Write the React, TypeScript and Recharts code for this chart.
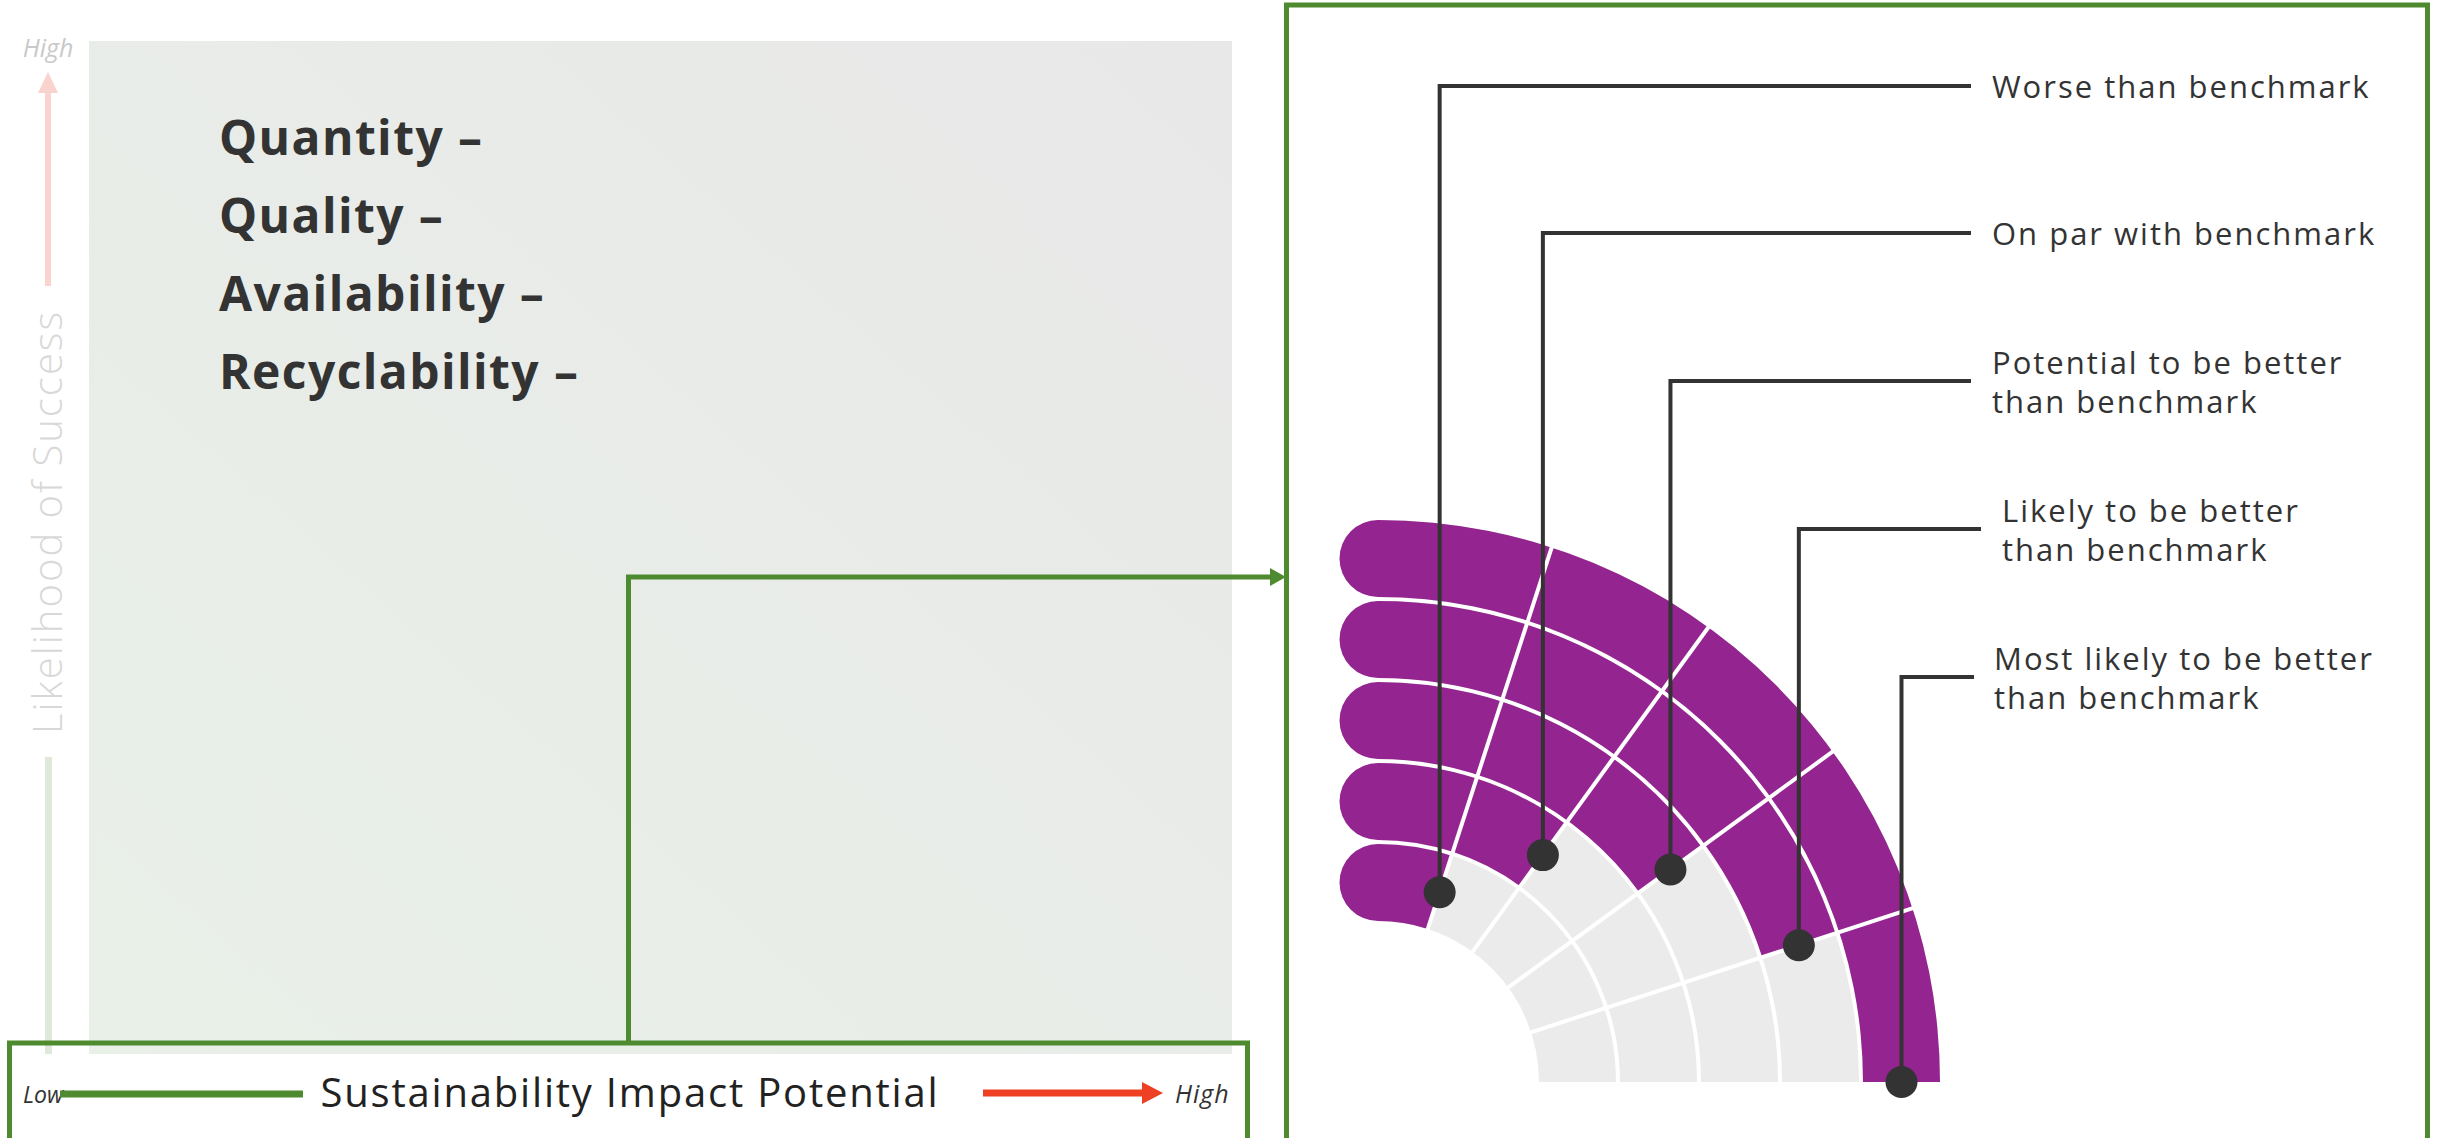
import React from "react";
import {
  RadialBarChart,
  RadialBar,
  PolarAngleAxis,
  PolarRadiusAxis,
  PolarGrid,
  LabelList,
} from "recharts";

// benchmark levels, innermost ring first
const levels = [
  "Worse than benchmark",
  "On par with benchmark",
  "Potential to be better than benchmark",
  "Likely to be better than benchmark",
  "Most likely to be better than benchmark",
];
const labelLines = [
  ["Worse than benchmark"],
  ["On par with benchmark"],
  ["Potential to be better", "than benchmark"],
  ["Likely to be better", "than benchmark"],
  ["Most likely to be better", "than benchmark"],
];
// filled segments per ring (out of 5)
const filledSegments = [1, 2, 3, 4, 5];
const segmentTicks = [1, 2, 3, 4];
const criteria = ["Quantity –", "Quality –", "Availability –", "Recyclability –"];

const data = levels.map((name, i) => ({ name, value: filledSegments[i] }));

// layout
const W = 2437;
const H = 1138;
const GREEN = "#4E8A2F";
const PURPLE = "#94248F";
const DARK = "#333333";
const FONT = "'Open Sans', 'DejaVu Sans', sans-serif";
const rowY = [86, 233, 381, 529, 677];
const lineEndX = [1971, 1971, 1971, 1981, 1974];
const textX = [1992, 1992, 1992, 2002, 1994];

const RAD = Math.PI / 180;
const polar = (cx: number, cy: number, r: number, a: number) => [
  cx + r * Math.cos(a * RAD),
  cy - r * Math.sin(a * RAD),
];

const CappedSector = (props: any) => {
  const { cx, cy, innerRadius, outerRadius, startAngle, endAngle, fill } = props;
  const base = Math.max(startAngle, endAngle);
  const tip = Math.min(startAngle, endAngle);
  const [x1, y1] = polar(cx, cy, outerRadius, base);
  const [x2, y2] = polar(cx, cy, outerRadius, tip);
  const [x3, y3] = polar(cx, cy, innerRadius, tip);
  const [x4, y4] = polar(cx, cy, innerRadius, base);
  const large = base - tip > 180 ? 1 : 0;
  const rc = (outerRadius - innerRadius) / 2;
  const d =
    `M${x1},${y1} A${outerRadius},${outerRadius} 0 ${large} 1 ${x2},${y2} ` +
    `L${x3},${y3} A${innerRadius},${innerRadius} 0 ${large} 0 ${x4},${y4} ` +
    `A${rc},${rc} 0 0 1 ${x1},${y1} Z`;
  return <path d={d} fill={fill} />;
};

const Leader = (props: any) => {
  const { viewBox, index } = props;
  if (!viewBox || index == null) return null;
  const { cx, cy, innerRadius, outerRadius, startAngle, endAngle } = viewBox;
  const tip = Math.min(startAngle, endAngle);
  const r = (innerRadius + outerRadius) / 2;
  const [x, y] = polar(cx, cy, r, tip);
  const ly = rowY[index];
  const lines = labelLines[index];
  const gap = 39;
  const y0 = ly - ((lines.length - 1) * gap) / 2;
  return (
    <g>
      <polyline
        points={`${x},${y} ${x},${ly} ${lineEndX[index]},${ly}`}
        fill="none"
        stroke={DARK}
        strokeWidth={4}
      />
      <circle cx={x} cy={y} r={16} fill={DARK} />
      {lines.map((t, j) => (
        <text
          key={j}
          x={textX[index]}
          y={y0 + j * gap}
          dominantBaseline="central"
          fontFamily={FONT}
          fontSize={31}
          letterSpacing={2}
          fill={DARK}
        >
          {t}
        </text>
      ))}
    </g>
  );
};

const Backdrop = () => (
  <svg width={W} height={H} style={{ position: "absolute", left: 0, top: 0 }}>
    <defs>
      <linearGradient id="panel" x1="0" y1="1" x2="1" y2="0">
        <stop offset="0%" stopColor="#E9F0E8" />
        <stop offset="100%" stopColor="#E8E8E8" />
      </linearGradient>
    </defs>
    <rect x={89} y={41} width={1143} height={1013} fill="url(#panel)" />
    {criteria.map((c, i) => (
      <text
        key={c}
        x={219}
        y={155 + i * 78}
        fontFamily={FONT}
        fontWeight={700}
        fontSize={48}
        letterSpacing={1.4}
        fill={DARK}
      >
        {c}
      </text>
    ))}

    {/* vertical axis */}
    <text x={48} y={57} textAnchor="middle" fontFamily={FONT} fontStyle="italic" fontSize={25} fill="#C9C9C9">
      High
    </text>
    <line x1={48} y1={90} x2={48} y2={286} stroke="#FAD3CE" strokeWidth={6} />
    <polygon points="38,93 58,93 48,72" fill="#FAD3CE" />
    <text
      x={62}
      y={522}
      transform="rotate(-90 62 522)"
      textAnchor="middle"
      fontFamily={FONT}
      fontWeight={300}
      fontSize={40}
      letterSpacing={2}
      fill="#D8D8D8"
    >
      Likelihood of Success
    </text>
    <line x1={48.5} y1={757} x2={48.5} y2={1054} stroke="#DFE9DA" strokeWidth={7} />

    {/* horizontal axis box */}
    <rect x={9.5} y={1043} width={1238} height={110} fill="none" stroke={GREEN} strokeWidth={5} />
    <text x={23} y={1103} fontFamily={FONT} fontStyle="italic" fontSize={23} fill={DARK}>
      Low
    </text>
    <line x1={60} y1={1094} x2={303} y2={1094} stroke={GREEN} strokeWidth={7} />
    <text
      x={630}
      y={1107}
      textAnchor="middle"
      fontFamily={FONT}
      fontSize={40}
      letterSpacing={1.8}
      fill="#222"
    >
      Sustainability Impact Potential
    </text>
    <line x1={983} y1={1093} x2={1146} y2={1093} stroke="#EE4023" strokeWidth={7} />
    <polygon points="1142,1082 1142,1104 1163,1093" fill="#EE4023" />
    <text x={1175} y={1103} fontFamily={FONT} fontStyle="italic" fontSize={25} letterSpacing={1} fill={DARK}>
      High
    </text>

    {/* connector */}
    <polyline points="628.5,1043 628.5,577 1272,577" fill="none" stroke={GREEN} strokeWidth={5} />
    <polygon points="1270,568 1270,586 1286,577" fill={GREEN} />

    {/* right frame */}
    <rect x={1286.5} y={5} width={1141} height={1145} fill="none" stroke={GREEN} strokeWidth={5} />
  </svg>
);

export default function App() {
  return (
    <div style={{ position: "absolute", left: 0, top: 0, width: W, height: H, background: "#fff" }}>
      <Backdrop />
      <div style={{ position: "absolute", left: 0, top: 0 }}>
        <RadialBarChart
          width={W}
          height={H}
          data={data}
          cx={1378}
          cy={1082}
          innerRadius={159}
          outerRadius={564}
          startAngle={90}
          endAngle={0}
          barCategoryGap={2}
          margin={{ top: 0, right: 0, bottom: 0, left: 0 }}
        >
          <PolarAngleAxis type="number" domain={[0, 5]} ticks={segmentTicks} tick={false} axisLine={false} />
          <PolarRadiusAxis type="category" dataKey="name" tick={false} axisLine={false} />
          <RadialBar
            dataKey="value"
            fill={PURPLE}
            background={{ fill: "#EBEBEB" }}
            shape={CappedSector}
            isAnimationActive={false}
          >
            <LabelList dataKey="value" content={Leader} />
          </RadialBar>
          <PolarGrid polarRadius={[]} stroke="#FFFFFF" strokeWidth={4} zIndex={1500} />
        </RadialBarChart>
      </div>
    </div>
  );
}
